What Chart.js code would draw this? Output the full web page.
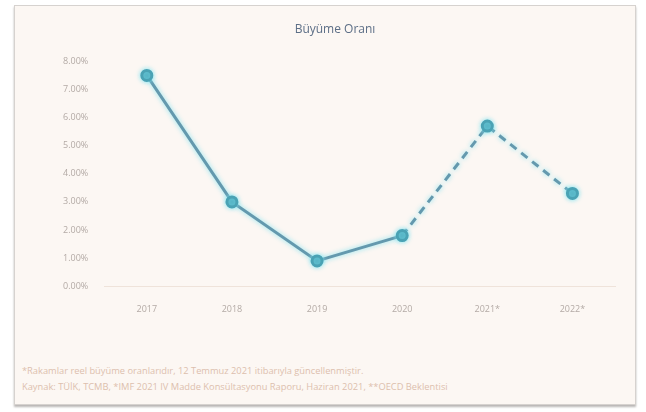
<!DOCTYPE html>
<html lang="tr">
<head>
<meta charset="utf-8">
<script src="https://cdn.jsdelivr.net/npm/chart.js@4"></script>
<style>
    html, body { margin: 0; padding: 0; background: #ffffff; }
    .card {
        position: absolute;
        left: 14px;
        top: 5px;
        width: 620px;
        height: 398px;
        background: #fcf7f3;
        border: 1px solid #d6d2cf;
        box-shadow: 0 2px 2px #b9b6b4;
    }
    .chart-box { position: absolute; left: 0; top: 0; width: 620px; height: 319px; }
    .notes {
        position: absolute;
        left: 7px;
        top: 357px;
        font-family: "Open Sans", sans-serif;
        font-size: 9.3px;
        line-height: 16px;
        color: #dcbfae;
        white-space: nowrap;
    }
</style>
</head>
<body>
<div class="card">
    <div class="chart-box"><canvas id="growthChart"></canvas></div>
    <div class="notes">
        <div>*Rakamlar reel büyüme oranlarıdır, 12 Temmuz 2021 itibarıyla güncellenmiştir.</div>
        <div>Kaynak: TÜİK, TCMB, *IMF 2021 IV Madde Konsültasyonu Raporu, Haziran 2021, **OECD Beklentisi</div>
    </div>
</div>
<script>
const years = ['2017', '2018', '2019', '2020', '2021*', '2022*'];
const growthRates = [7.5, 3.0, 0.9, 1.8, 5.7, 3.3];
const firstForecast = 3; // segment from 2020 onwards is dashed

const lineColor = '#6499ae';
const pointColor = '#4aa2b4';

// soft cyan glow under the line, like the printed chart
const glowPlugin = {
    id: 'glow',
    beforeDatasetDraw(chart) {
        const ctx = chart.ctx;
        ctx.save();
        ctx.shadowColor = 'rgba(120, 225, 240, 0.9)';
        ctx.shadowBlur = 5;
    },
    afterDatasetDraw(chart) {
        chart.ctx.restore();
    }
};

new Chart(document.getElementById('growthChart'), {
    type: 'line',
    data: {
        labels: years,
        datasets: [{
            label: 'Büyüme Oranı',
            data: growthRates,
            borderColor: lineColor,
            borderWidth: 3,
            pointBackgroundColor: pointColor,
            pointBorderColor: pointColor,
            pointRadius: 5,
            tension: 0,
            segment: {
                borderDash: ctx => ctx.p0DataIndex >= firstForecast ? [8, 6] : undefined
            }
        }]
    },
    options: {
        responsive: true,
        maintainAspectRatio: false,
        animation: false,
        layout: { padding: { left: 40, right: 20, top: 0, bottom: 0 } },
        plugins: {
            legend: { display: false },
            tooltip: { enabled: false },
            title: {
                display: true,
                text: 'Büyüme Oranı',
                color: '#5c6e86',
                font: { family: 'Open Sans', size: 12, weight: 'normal' },
                padding: { top: 16, bottom: 25 }
            }
        },
        scales: {
            x: {
                offset: true,
                grid: { display: false },
                border: { display: true, color: '#efe3da', dash: [2, 2] },
                ticks: {
                    color: '#b3aaa5',
                    font: { family: 'Open Sans', size: 9 },
                    padding: 10
                }
            },
            y: {
                min: 0,
                max: 8,
                grid: { display: false },
                border: { display: false },
                ticks: {
                    stepSize: 1,
                    color: '#b3aaa5',
                    font: { family: 'Open Sans', size: 9 },
                    padding: 8,
                    callback: value => value.toFixed(2) + '%'
                }
            }
        }
    },
    plugins: [glowPlugin]
});
</script>
</body>
</html>
